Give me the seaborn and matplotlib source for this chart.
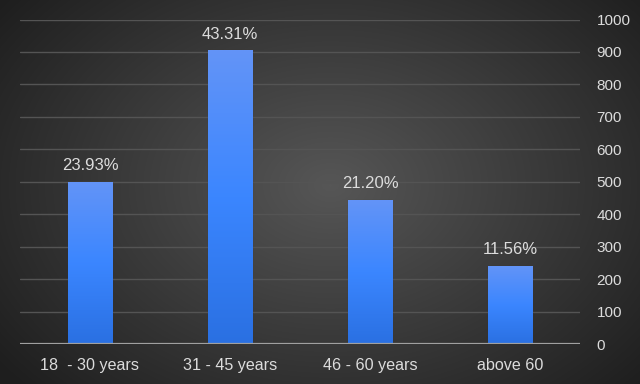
import numpy as np
import pandas as pd
import matplotlib
matplotlib.use("Agg")
import matplotlib.pyplot as plt
import seaborn as sns
from matplotlib.colors import LinearSegmentedColormap

categories = ["18  - 30 years", "31 - 45 years", "46 - 60 years", "above 60"]
counts = [500, 905, 443, 241]
pct_labels = ["23.93%", "43.31%", "21.20%", "11.56%"]
y_ticks = [0, 100, 200, 300, 400, 500, 600, 700, 800, 900, 1000]

sns.set_theme(style="white")
plt.rcParams['font.family'] = ['Liberation Sans', 'DejaVu Sans']

fig = plt.figure(figsize=(6.4, 3.84), dpi=100)

# radial gradient background
bg = fig.add_axes([0, 0, 1, 1], zorder=0)
yy, xx = np.mgrid[0:384, 0:640]
r = np.sqrt(((xx - 330) / 420.0) ** 2 + ((yy - 185) / 300.0) ** 2)
r = np.clip(r, 0, 1)
bg_cmap = LinearSegmentedColormap.from_list("bg", ["#565656", "#3a3a3a", "#1e1e1e"])
bg.imshow(r, cmap=bg_cmap, aspect="auto", extent=[0, 1, 0, 1], vmin=0, vmax=1)
bg.axis("off")

ax = fig.add_axes([20 / 640, 1 - 344 / 384, 560 / 640, (344 - 19.5) / 384], zorder=1)
ax.patch.set_alpha(0)

df = pd.DataFrame({"cat": categories, "count": counts})
sns.barplot(data=df, x="cat", y="count", ax=ax, color="#3b86ff", width=0.315,
            edgecolor="#3a3220", linewidth=0.8, saturation=1, zorder=3)

ax.set_ylim(0, 1000)
ax.set_xlim(-0.5, 3.5)
ax.set_yticks(y_ticks)
ax.yaxis.tick_right()
ax.set_xlabel("")
ax.set_ylabel("")
for s in ax.spines.values():
    s.set_visible(False)
ax.grid(axis="y", color="#545454", linewidth=1.0, zorder=0)
ax.set_axisbelow(True)
ax.axhline(0, color="#a0a0a0", linewidth=1.6, zorder=4)
ax.tick_params(axis="y", length=0, pad=12, labelsize=11, labelcolor="#dcdcdc")
ax.tick_params(axis="x", length=0, pad=10, labelsize=11.6, labelcolor="#dcdcdc")
for lab in ax.get_yticklabels():
    lab.set_horizontalalignment("left")

# gradient fill inside each bar
grad_cmap = LinearSegmentedColormap.from_list("bar", ["#2a70e2", "#3b86ff", "#6394f7"])
grad = np.linspace(0, 1, 256).reshape(-1, 1)
for p in ax.patches:
    x0, w, h = p.get_x(), p.get_width(), p.get_height()
    im = ax.imshow(grad, cmap=grad_cmap, origin="lower", aspect="auto",
                   extent=[x0, x0 + w, 0, h], zorder=3.5)
    im.set_clip_path(p)
ax.set_xlim(-0.5, 3.5)
ax.set_ylim(0, 1000)

for i, (v, lab) in enumerate(zip(counts, pct_labels)):
    ax.annotate(lab, (i, v), xytext=(0, 8.5), textcoords="offset points",
                ha="center", va="baseline", color="#dcdcdc", fontsize=12, zorder=5)

fig.savefig("out.png", dpi=100)
